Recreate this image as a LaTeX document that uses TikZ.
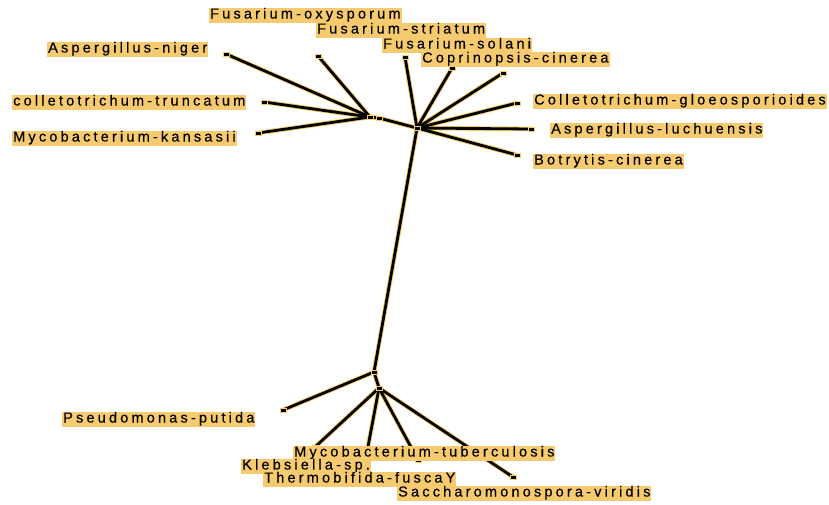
\documentclass[tikz,border=0pt]{standalone}
\usepackage{fontspec}
\setmainfont{Liberation Sans}
\newfontfamily\tagfont[LetterSpace=22,FakeBold=0.4]{Liberation Sans}
\usetikzlibrary{backgrounds}

\definecolor{tagfill}{RGB}{246,203,112}
\definecolor{halo}{RGB}{244,206,100}

\begin{document}
\begin{tikzpicture}[x=1pt, y=-1pt,
        tip/.style={rectangle, fill=black, draw=halo, line width=0.9pt, inner sep=0pt,
            minimum width=6pt, minimum height=4pt},
        taxon/.style={anchor=west, fill=tagfill, inner xsep=1pt, inner ysep=1pt,
            text height=10pt, text depth=3pt, font=\tagfont\fontsize{14.5}{16}\selectfont}]
        \useasboundingbox (0,0) rectangle (829,504);

        % inner nodes
        \node[tip] (hubA) at (370,117) {};
        \node[tip] (hubB) at (379,118) {};
        \node[tip] (hubF) at (417,128) {};
        \node[tip] (hubC) at (374,372) {};
        \node[tip] (hubD) at (379,388) {};

        % leaves
        \node[tip] (aniger) at (226,54) {};
        \node[tip] (ctrunc) at (264,102) {};
        \node[tip] (mkans) at (258,133) {};
        \node[tip] (foxy) at (318,56) {};
        \node[tip] (fstri) at (405,57) {};
        \node[tip] (fsol) at (452,68) {};
        \node[tip] (ccin) at (503,73) {};
        \node[tip] (cgloeo) at (517,103) {};
        \node[tip] (aluch) at (531,129) {};
        \node[tip] (bcin) at (517,155) {};
        \node[tip] (pput) at (283,410) {};
        \node[tip] (mtub) at (315,447) {};
        \node[tip] (kleb) at (367,452) {};
        \node[tip] (tfus) at (418,460) {};
        \node[tip] (svir) at (513,477) {};

        \begin{pgfonlayer}{background}
            \foreach \w/\c in {4.6pt/halo, 2.8pt/black}
                \foreach \a/\b in {hubA/aniger, hubA/ctrunc, hubA/mkans, hubA/foxy, hubA/hubB,
                        hubB/hubF, hubF/fstri, hubF/fsol, hubF/ccin, hubF/cgloeo, hubF/aluch,
                        hubF/bcin, hubF/hubC, hubC/pput, hubC/hubD, hubD/mtub, hubD/kleb,
                        hubD/tfus, hubD/svir}
                    \draw[line width=\w, \c] (\a.center) -- (\b.center);
        \end{pgfonlayer}

        % labels
        \node[taxon] (lab-foxy) at (209,15) {Fusarium-oxysporum};
        \node[taxon] (lab-fstri) at (316,30) {Fusarium-striatum};
        \node[taxon] (lab-fsol) at (382,45) {Fusarium-solani};
        \node[taxon] (lab-ccin) at (421,59) {Coprinopsis-cinerea};
        \node[taxon] (lab-aniger) at (47,49) {Aspergillus-niger};
        \node[taxon] (lab-ctrunc) at (12,102) {colletotrichum-truncatum};
        \node[taxon] (lab-mkans) at (12,138) {Mycobacterium-kansasii};
        \node[taxon] (lab-cgloeo) at (533,101) {Colletotrichum-gloeosporioides};
        \node[taxon] (lab-aluch) at (550,130) {Aspergillus-luchuensis};
        \node[taxon] (lab-bcin) at (533,161) {Botrytis-cinerea};
        \node[taxon] (lab-pput) at (62,419) {Pseudomonas-putida};
        \node[taxon] (lab-mtub) at (293,453) {Mycobacterium-tuberculosis};
        \node[taxon] (lab-kleb) at (241,466) {Klebsiella-sp.};
        \node[taxon] (lab-tfus) at (263,479) {Thermobifida-fuscaY};
        \node[taxon] (lab-svir) at (397,493) {Saccharomonospora-viridis};
    \end{tikzpicture}
\end{document}
